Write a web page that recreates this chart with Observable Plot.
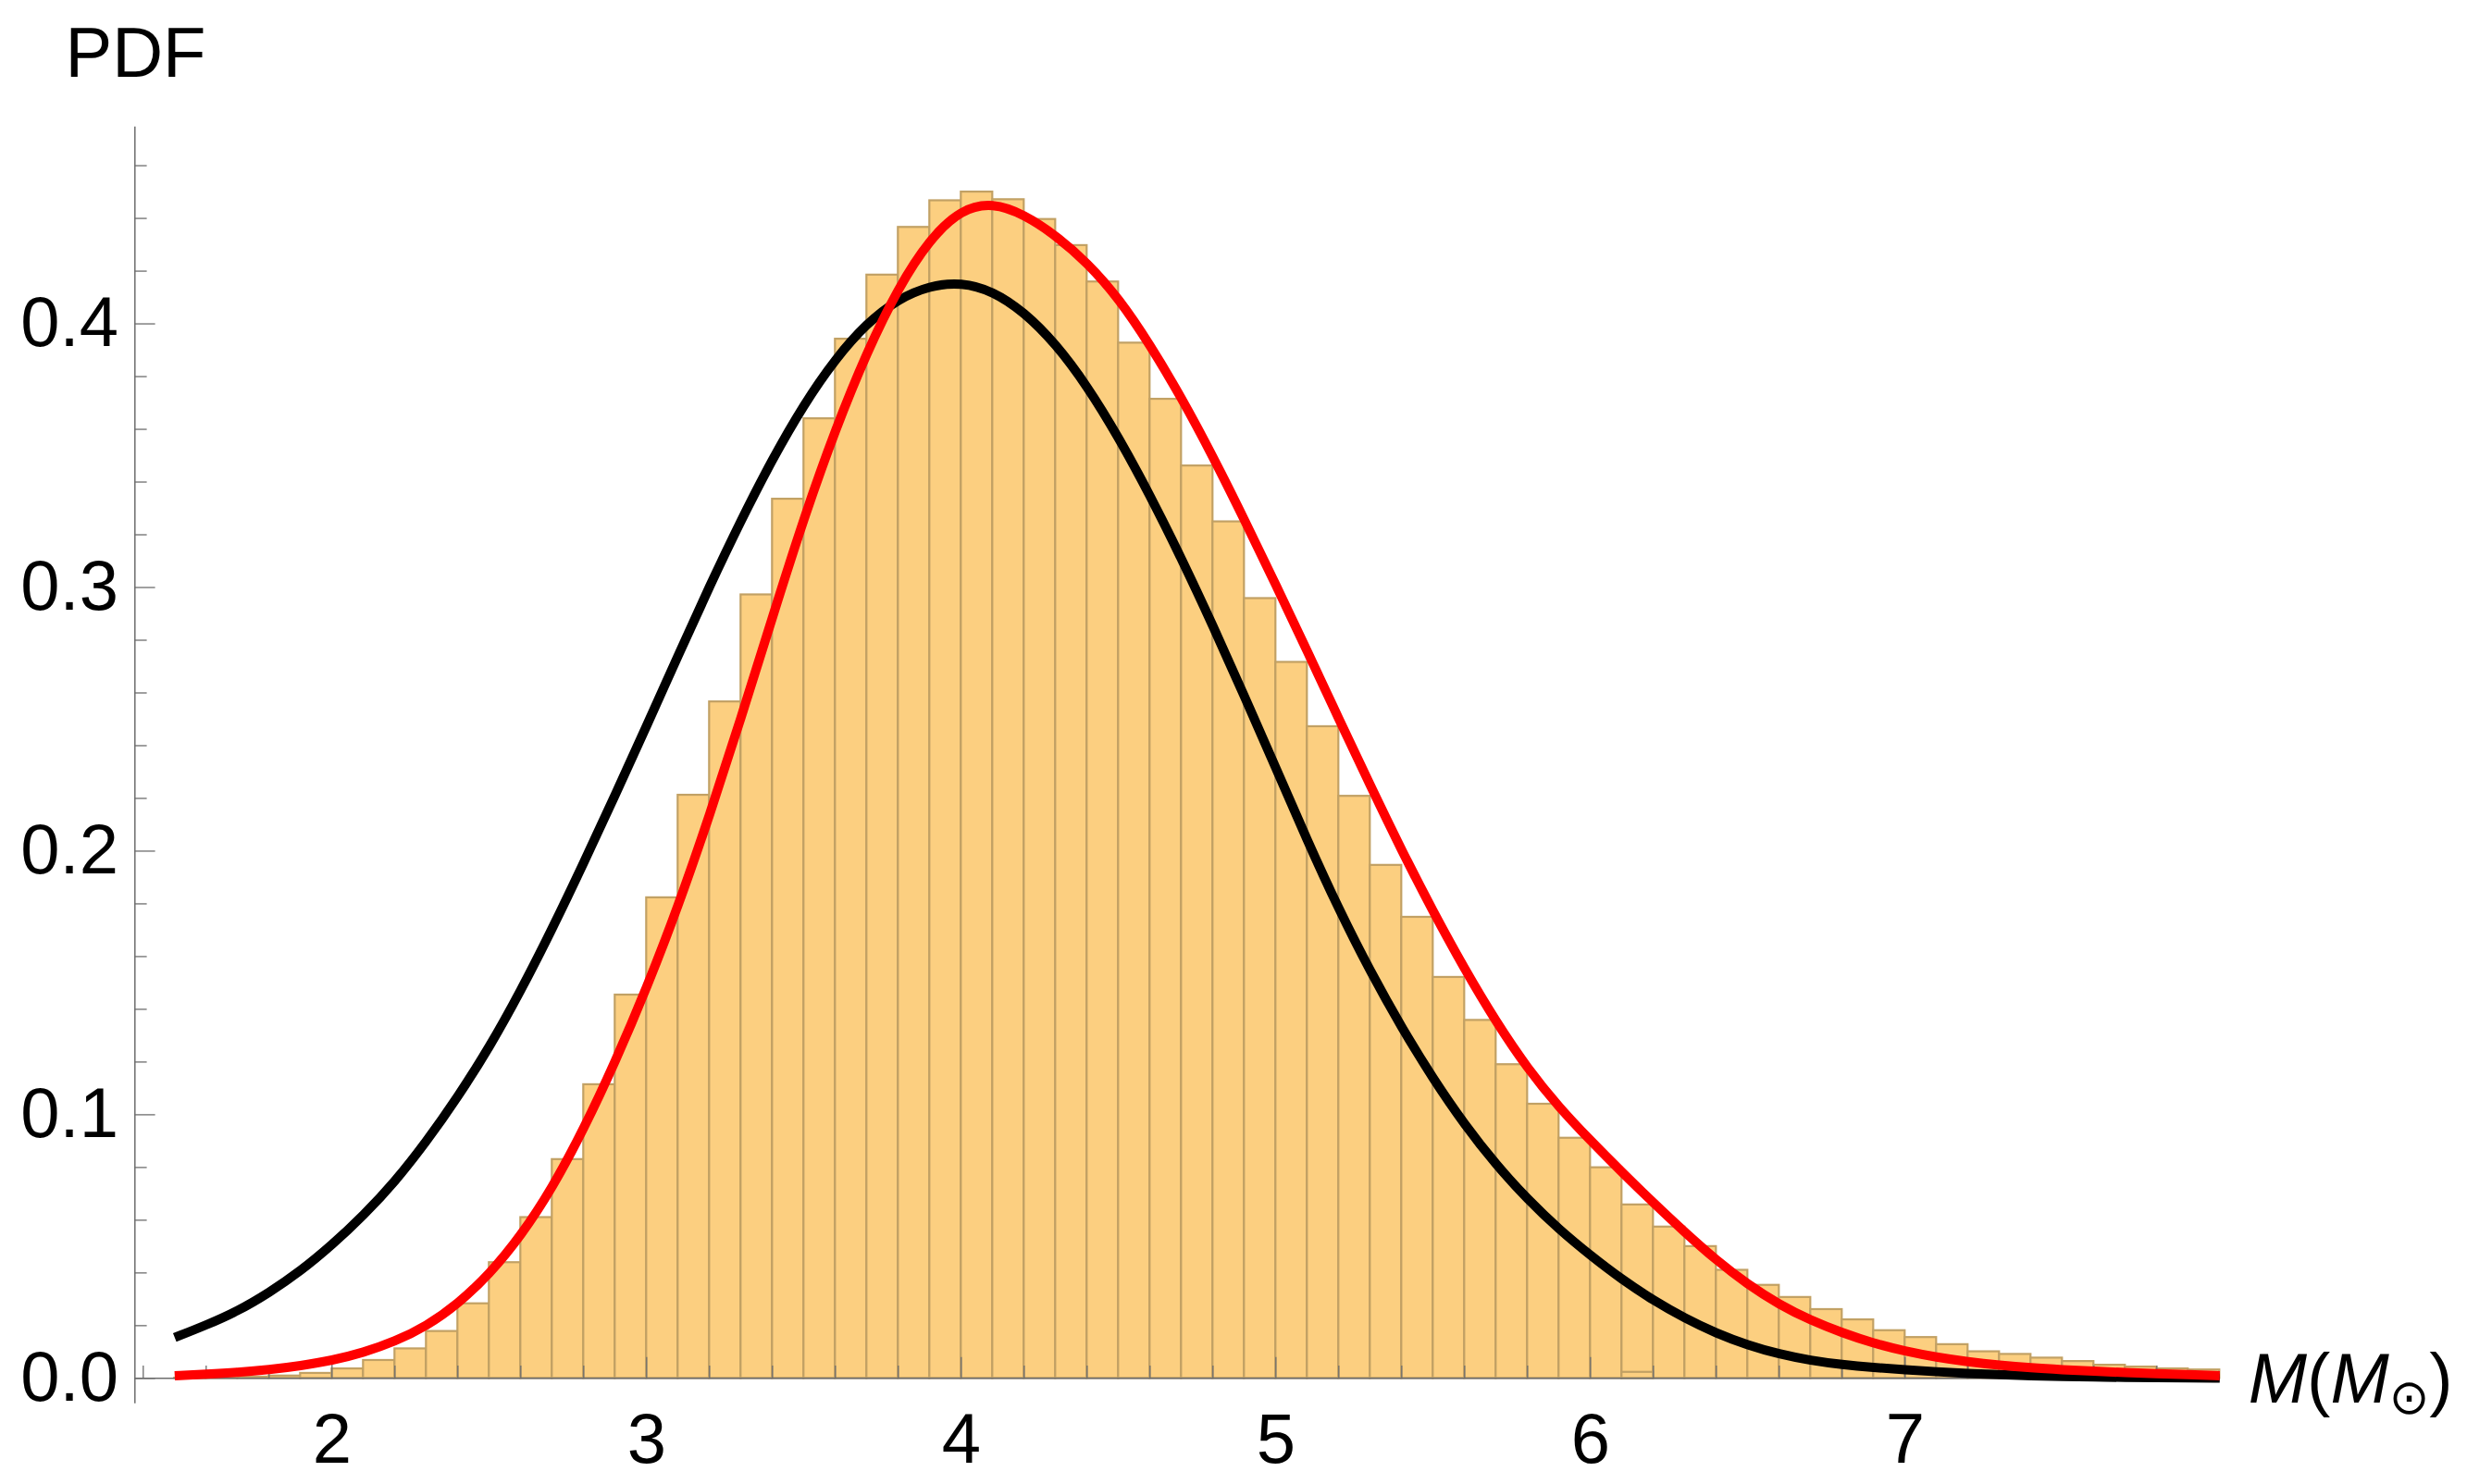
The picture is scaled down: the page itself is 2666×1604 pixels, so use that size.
<!DOCTYPE html>
<html>
<head>
<meta charset="utf-8">
<script src="https://cdn.jsdelivr.net/npm/d3@7"></script>
<script src="https://cdn.jsdelivr.net/npm/@observablehq/plot@0.6"></script>
<style>
  html, body { margin: 0; padding: 0; background: #ffffff; }
  #chart svg { display: block; }
</style>
</head>
<body>
<div id="chart"></div>
<script>
// ---- histogram (bin width 0.1) ----
const binEdges = [1.5,1.6,1.7,1.8,1.9,2.0,2.1,2.2,2.3,2.4,2.5,2.6,2.7,2.8,2.9,3.0,3.1,3.2,3.3,3.4,
  3.5,3.6,3.7,3.8,3.9,4.0,4.1,4.2,4.3,4.4,4.5,4.6,4.7,4.8,4.9,5.0,5.1,5.2,5.3,5.4,
  5.5,5.6,5.7,5.8,5.9,6.0,6.1,6.2,6.3,6.4,6.5,6.6,6.7,6.8,6.9,7.0,7.1,7.2,7.3,7.4,
  7.5,7.6,7.7,7.8,7.9,8.0];
const binHeights = [0.0001,0.0002,0.0005,0.0009,0.0019,0.0036,0.0068,0.0112,0.0178,0.0283,
  0.0439,0.0610,0.0830,0.1114,0.1454,0.1823,0.2212,0.2566,0.2972,0.3335,
  0.3640,0.3942,0.4185,0.4366,0.4467,0.4500,0.4471,0.4396,0.4297,0.4159,
  0.3927,0.3714,0.3461,0.3249,0.2958,0.2716,0.2472,0.2208,0.1946,0.1749,
  0.1521,0.1358,0.1190,0.1040,0.0911,0.0799,0.0658,0.0574,0.0500,0.0410,
  0.0353,0.0307,0.0261,0.0222,0.0181,0.0155,0.0128,0.0101,0.0091,0.0077,
  0.0064,0.0050,0.0043,0.0036,0.0032];
// small extra outline visible near 6.1–6.2
const extraBinEdges = [6.1, 6.2];
const extraBinHeights = [0.0023];

// ---- curves ----
const curveX = [1.5,1.6,1.7,1.8,1.9,2.0,2.1,2.2,2.3,2.4,2.5,2.6,2.7,2.8,2.9,3.0,3.1,3.2,3.3,3.4,
  3.5,3.6,3.7,3.8,3.9,4.0,4.1,4.2,4.3,4.4,4.5,4.6,4.7,4.8,4.9,5.0,5.1,5.2,5.3,5.4,
  5.5,5.6,5.7,5.8,5.9,6.0,6.1,6.2,6.3,6.4,6.5,6.6,6.7,6.8,6.9,7.0,7.1,7.2,7.3,7.4,
  7.5,7.6,7.7,7.8,7.9,8.0];
const blackPdf = [0.0155,0.0202,0.0255,0.0325,0.0407,0.0506,0.0618,0.0746,0.0898,0.1068,
  0.1255,0.1470,0.1705,0.1955,0.2213,0.2475,0.2742,0.3005,0.3255,0.3488,
  0.3695,0.3868,0.4003,0.4095,0.4145,0.4158,0.4125,0.4045,0.3925,0.3765,
  0.3570,0.3350,0.3110,0.2855,0.2588,0.2315,0.2040,0.1779,0.1544,0.1330,
  0.1136,0.0962,0.0810,0.0679,0.0565,0.0466,0.0375,0.0296,0.0228,0.0171,
  0.0126,0.0092,0.0068,0.0052,0.0041,0.0033,0.0025,0.0019,0.0014,0.0010,
  0.0007,0.0005,0.0004,0.0003,0.0002,0.0001];
const redPdf = [0.0010,0.0016,0.0023,0.0033,0.0048,0.0068,0.0098,0.0140,0.0198,0.0282,
  0.0395,0.0540,0.0722,0.0945,0.1200,0.1480,0.1790,0.2135,0.2505,0.2888,
  0.3265,0.3600,0.3893,0.4138,0.4322,0.4435,0.4460,0.4415,0.4336,0.4233,
  0.4098,0.3921,0.3720,0.3497,0.3257,0.3010,0.2758,0.2502,0.2249,0.2002,
  0.1770,0.1552,0.1352,0.1175,0.1028,0.0902,0.0782,0.0666,0.0554,0.0448,
  0.0356,0.0280,0.0220,0.0173,0.0133,0.0103,0.0080,0.0063,0.0050,0.0040,
  0.0033,0.0027,0.0022,0.0018,0.0014,0.0010];

// ---- axes ----
const xDomain = [1.3735, 8.13];
const yDomain = [-0.0096, 0.4747];
const xAxisEnd = 7.95;
const xMajorTicks = [2, 3, 4, 5, 6, 7];
const xTickLabels = ["2", "3", "4", "5", "6", "7"];
const xMinorTicks = [1.4,1.6,1.8,2.2,2.4,2.6,2.8,3.2,3.4,3.6,3.8,4.2,4.4,4.6,4.8,5.2,5.4,5.6,5.8,6.2,6.4,6.6,6.8,7.2,7.4,7.6,7.8];
const yMajorTicks = [0, 0.1, 0.2, 0.3, 0.4];
const yTickLabels = ["0.0", "0.1", "0.2", "0.3", "0.4"];
const yMinorTicks = [0.02,0.04,0.06,0.08,0.12,0.14,0.16,0.18,0.22,0.24,0.26,0.28,0.32,0.34,0.36,0.38,0.42,0.44,0.46];
const yAxisTitle = "PDF";
const xAxisTitle = "M(M⊙)";

// ---- tables built from the arrays ----
const bins = binHeights.map((h, i) => ({x1: binEdges[i], x2: binEdges[i + 1], h}));
const extraBins = extraBinHeights.map((h, i) => ({x1: extraBinEdges[i], x2: extraBinEdges[i + 1], h}));
const blackData = curveX.map((x, i) => ({x, y: blackPdf[i]}));
const redData = curveX.map((x, i) => ({x, y: redPdf[i]}));
const xMajor = xMajorTicks.map((v, i) => ({v, label: xTickLabels[i]}));
const yMajor = yMajorTicks.map((v, i) => ({v, label: yTickLabels[i]}));

const FONT = "'Liberation Sans', Arial, Helvetica, sans-serif";
const AXIS = "#6d6d6d";
const FILL = "#fccf80";
const EDGE = "#c2a164";
const LW = 10;

const chart = Plot.plot({
  width: 2666,
  height: 1604,
  marginLeft: 145.3,
  marginRight: 223.5,
  marginTop: 136.7,
  marginBottom: 87.3,
  style: {fontFamily: FONT, background: "#ffffff", overflow: "visible"},
  x: {domain: xDomain, axis: null},
  y: {domain: yDomain, axis: null},
  marks: [
    // histogram
    Plot.rectY(bins, {x1: "x1", x2: "x2", y1: 0, y2: "h", fill: FILL, stroke: EDGE, strokeWidth: 2.2}),
    Plot.rectY(extraBins, {x1: "x1", x2: "x2", y1: 0, y2: "h", fill: FILL, stroke: EDGE, strokeWidth: 2.2}),
    // axes lines
    Plot.ruleX([xDomain[0]], {stroke: AXIS, strokeWidth: 1.5}),
    Plot.ruleY([0], {x1: xDomain[0], x2: xAxisEnd, stroke: AXIS, strokeWidth: 1.5}),
    // y ticks (inward)
    Plot.ruleY(yMajor, {y: "v", x1: xDomain[0], x2: xDomain[0], insetRight: -22.3, stroke: AXIS, strokeWidth: 1.3}),
    Plot.ruleY(yMinorTicks, {y: d => d, x1: xDomain[0], x2: xDomain[0], insetRight: -13.3, stroke: AXIS, strokeWidth: 1.3}),
    // x ticks (inward)
    Plot.ruleX(xMajor, {x: "v", y1: 0, y2: 0, insetTop: -22.7, stroke: AXIS, strokeWidth: 1.3}),
    Plot.ruleX(xMinorTicks, {x: d => d, y1: 0, y2: 0, insetTop: -13.3, stroke: AXIS, strokeWidth: 1.3}),
    // curves
    Plot.line(blackData, {x: "x", y: "y", stroke: "#000000", strokeWidth: LW, curve: "basis", strokeLinecap: "butt", strokeLinejoin: "round"}),
    Plot.line(redData, {x: "x", y: "y", stroke: "#ff0000", strokeWidth: LW, curve: "basis", strokeLinecap: "butt", strokeLinejoin: "round"}),
    // tick labels
    Plot.text(yMajor, {x: xDomain[0], y: "v", text: "label", textAnchor: "end", dx: -17.8, fontSize: 76, fill: "#000000", fontFamily: FONT}),
    Plot.text(xMajor, {x: "v", y: 0, text: "label", lineAnchor: "top", dy: 37, fontSize: 76, fill: "#000000", fontFamily: FONT}),
    // axis titles
    Plot.text([yAxisTitle], {frameAnchor: "top-left", text: d => d, textAnchor: "start", lineAnchor: "top", dx: -75.3, dy: -107.7, fontSize: 76, fill: "#000000", fontFamily: FONT}),
    Plot.text([xAxisTitle], {x: xAxisEnd, y: 0, text: d => d, textAnchor: "start", lineAnchor: "top", dx: 48, dy: -28.3, fontSize: 76, fill: "#000000", fontFamily: FONT})
  ]
});

document.getElementById("chart").appendChild(chart);

// rich formatting of the x-axis title: italic M, subscript ⊙
d3.select(chart).selectAll("text").filter(function () { return this.textContent === xAxisTitle; })
  .each(function () {
    const t = d3.select(this);
    t.text(null);
    t.append("tspan").attr("font-style", "italic").text("M");
    t.append("tspan").text("(");
    t.append("tspan").attr("font-style", "italic").text("M");
    t.append("tspan").attr("font-size", 52).attr("dy", 13).attr("font-family", "'DejaVu Sans', sans-serif").text("⊙");
    t.append("tspan").attr("dy", -13).text(")");
  });
</script>
</body>
</html>
